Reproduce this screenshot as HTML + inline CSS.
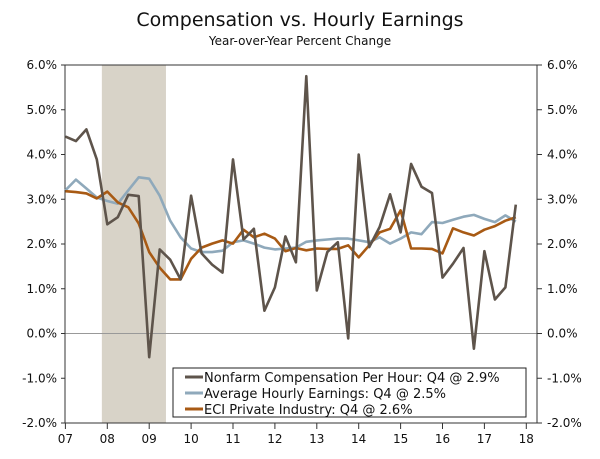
<!DOCTYPE html>
<html><head><meta charset="utf-8"><style>
body{margin:0;background:#fff;}
svg text{font-family:"DejaVu Sans","Liberation Sans",sans-serif;}
</style></head><body>
<svg id="chart" width="600" height="454" xmlns="http://www.w3.org/2000/svg">
<text x="300" y="26" text-anchor="middle" font-size="19" fill="#111">Compensation vs. Hourly Earnings</text>
<text x="300" y="45" text-anchor="middle" font-size="12" fill="#111">Year-over-Year Percent Change</text>
<g id="plot"></g>
</svg>
<script>
const yTicks=[-2,-1,0,1,2,3,4,5,6];
const xLabels=["07","08","09","10","11","12","13","14","15","16","17","18"];
const nonfarm=[4.40,4.30,4.56,3.89,2.44,2.60,3.10,3.07,-0.53,1.88,1.65,1.21,3.08,1.79,1.54,1.36,3.89,2.10,2.34,0.51,1.03,2.17,1.59,5.75,0.96,1.82,2.04,-0.11,4.00,1.93,2.38,3.11,2.26,3.79,3.28,3.14,1.25,1.56,1.91,-0.34,1.84,0.76,1.03,2.88];
const ahe=[3.20,3.44,3.24,3.04,2.96,2.90,3.20,3.49,3.46,3.08,2.52,2.15,1.90,1.82,1.82,1.85,2.04,2.08,2.01,1.92,1.88,1.90,1.92,2.05,2.08,2.10,2.12,2.12,2.08,2.04,2.15,2.01,2.12,2.26,2.22,2.49,2.47,2.54,2.61,2.65,2.56,2.49,2.64,2.50];
const eci=[3.18,3.16,3.13,3.02,3.17,2.93,2.82,2.46,1.82,1.47,1.21,1.21,1.67,1.92,2.01,2.08,2.01,2.32,2.15,2.23,2.12,1.84,1.91,1.86,1.90,1.89,1.89,1.97,1.70,1.97,2.26,2.34,2.75,1.90,1.90,1.89,1.79,2.35,2.26,2.19,2.32,2.40,2.52,2.60];
const recession=[2007.87,2009.4];
const startYear=2007;

const L=65,R=537,T=65,B=423,yMin=-2,yMax=6;
const yS=v=>B-(v-yMin)/(yMax-yMin)*(B-T);
const xYear=y=>65.4+(y-startYear)*41.9;
const xQ=i=>xYear(startYear+i/4);
const g=document.getElementById('plot');
const NS='http://www.w3.org/2000/svg';
function mk(tag,at){const e=document.createElementNS(NS,tag);for(const k in at)e.setAttribute(k,at[k]);g.appendChild(e);return e;}

const rec=mk('rect',{x:xYear(recession[0]),y:T,width:xYear(recession[1])-xYear(recession[0]),height:B-T,fill:'#d8d3c8'});


const zl=mk('line',{x1:L,x2:R,y1:yS(0),y2:yS(0),stroke:'#999','stroke-width':1});


const fr=mk('rect',{x:L,y:T,width:R-L,height:B-T,fill:'none',stroke:'#333','stroke-width':1});



yTicks.forEach(v=>{
  const y=yS(v);
  mk('line',{x1:L-4,x2:L,y1:y,y2:y,stroke:'#333'});
  mk('line',{x1:R,x2:R+5,y1:y,y2:y,stroke:'#333'});
  const t1=mk('text',{x:L-8,y:y+4,'text-anchor':'end','font-size':12,fill:'#111'});
  t1.textContent=v.toFixed(1)+'%';
  
  
  const t2=mk('text',{x:R+10,y:y+4,'text-anchor':'start','font-size':12,fill:'#111'});
  t2.textContent=v.toFixed(1)+'%';
  
  
});
xLabels.forEach((s,i)=>{
  const x=xYear(startYear+i);
  mk('line',{x1:x,x2:x,y1:B,y2:B+6,stroke:'#333'});
  const t=mk('text',{x:x,y:B+20,'text-anchor':'middle','font-size':12,fill:'#111'});
  t.textContent=s;
  
  
});
function line(arr,color,name){
  const p=mk('polyline',{points:arr.map((v,i)=>xQ(i).toFixed(1)+','+yS(v).toFixed(1)).join(' '),fill:'none',stroke:color,'stroke-width':2.6,'stroke-linejoin':'round'});
  
  
}
line(ahe,'#8fa9bb','series-average-hourly-earnings');
line(eci,'#a85a14','series-eci-private-industry');
line(nonfarm,'#5e544b','series-nonfarm-compensation');

const lb=mk('rect',{x:173,y:368,width:353,height:49,fill:'#fff',stroke:'#222','stroke-width':1});


const leg=[['Nonfarm Compensation Per Hour: Q4 @ 2.9%','#5e544b'],['Average Hourly Earnings: Q4 @ 2.5%','#8fa9bb'],['ECI Private Industry: Q4 @ 2.6%','#a85a14']];
leg.forEach((d,i)=>{
  const y=377+i*16;
  mk('line',{x1:185,x2:203,y1:y,y2:y,stroke:d[1],'stroke-width':3});
  const t=mk('text',{x:204,y:y+5,'font-size':13,fill:'#111'});
  t.textContent=d[0];
  
  
});
</script>
</body></html>
